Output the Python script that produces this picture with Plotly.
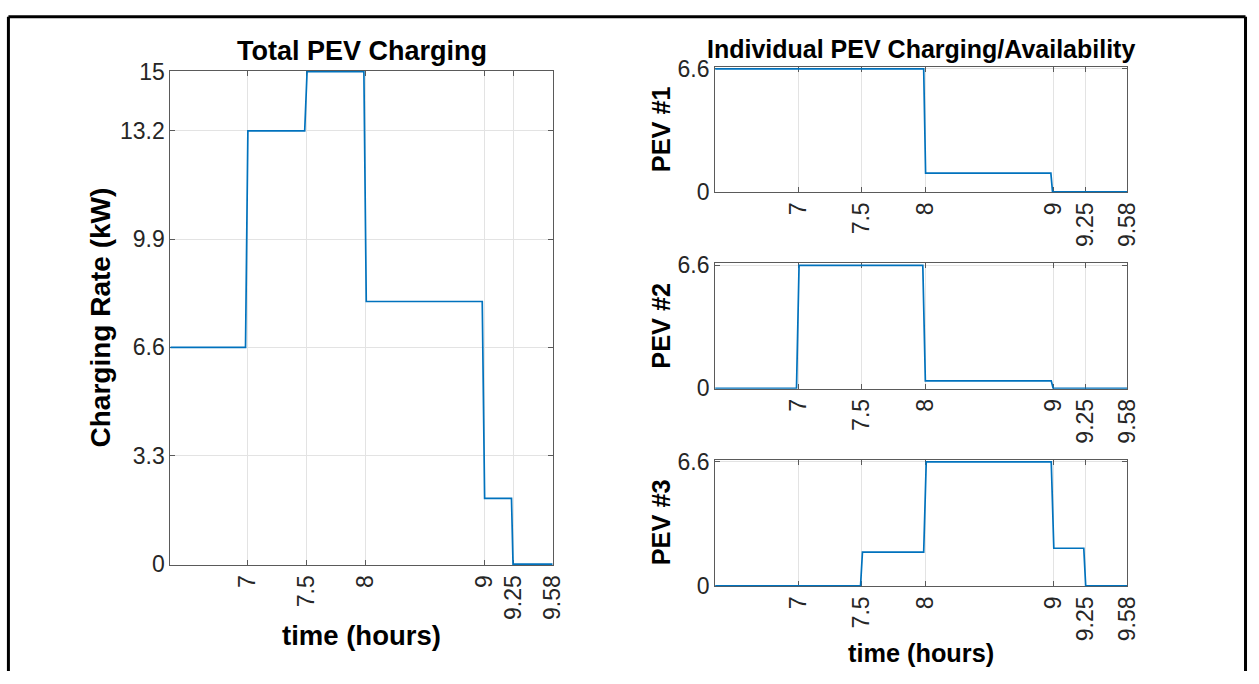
import plotly.graph_objects as go

# ---------------- data ----------------
x_ticks = [7, 7.5, 8, 9, 9.25, 9.58]
x_tick_labels = ["7", "7.5", "8", "9", "9.25", "9.58"]
x_range = [6.35, 9.58]

total_y_ticks = [0, 3.3, 6.6, 9.9, 13.2, 15]
pev_y_ticks = [0, 6.6]

# Total PEV charging (kW) - vertices of the stepped curve
total_t = [6.35, 6.985, 7.005, 7.485, 7.505, 7.985, 8.005, 8.985, 9.005, 9.232, 9.245, 9.58]
total_v = [6.6, 6.6, 13.2, 13.2, 15.0, 15.0, 8.0, 8.0, 2.0, 2.0, 0.0, 0.0]

pev1_t = [6.35, 7.985, 8.0, 8.982, 8.995, 9.58]
pev1_v = [6.6, 6.6, 1.0, 1.0, 0.0, 0.0]

pev2_t = [6.35, 6.988, 7.008, 7.978, 7.998, 8.985, 9.0, 9.58]
pev2_v = [0.0, 0.0, 6.6, 6.6, 0.4, 0.4, 0.0, 0.0]

pev3_t = [6.35, 7.49, 7.505, 7.985, 8.005, 8.985, 9.005, 9.24, 9.255, 9.58]
pev3_v = [0.0, 0.0, 1.8, 1.8, 6.6, 6.6, 2.0, 2.0, 0.0, 0.0]

# ---------------- styling ----------------
W, H = 1259, 684
FONT = "Liberation Sans, Arial, Helvetica, sans-serif"
LINE_COLOR = "#0072BD"
AX_COLOR = "#5a5a5a"
GRID = "#e3e3e3"
TXT = "#262626"
TICK_FS = 23


def px_x(p):
    return p / W


def px_y(p):
    return 1 - p / H


fig = go.Figure()

series = [
    (total_t, total_v, "x", "y"),
    (pev1_t, pev1_v, "x2", "y2"),
    (pev2_t, pev2_v, "x3", "y3"),
    (pev3_t, pev3_v, "x4", "y4"),
]
for t, v, xa, ya in series:
    fig.add_trace(go.Scatter(x=t, y=v, mode="lines", xaxis=xa, yaxis=ya,
                             line=dict(color=LINE_COLOR, width=1.7),
                             showlegend=False, hoverinfo="skip"))

common_axis = dict(
    showline=True, linecolor=AX_COLOR, linewidth=1, mirror="allticks",
    ticks="inside", ticklen=5, tickcolor=AX_COLOR, tickwidth=1,
    showgrid=True, gridcolor=GRID, gridwidth=1, zeroline=False,
    tickfont=dict(family=FONT, size=TICK_FS, color=TXT),
    layer="below traces",
)

left_dom_x = [px_x(172), px_x(558)]
right_dom_x = [px_x(722), px_x(1138)]

xaxis_common = dict(common_axis, range=x_range, tickmode="array", tickvals=x_ticks,
                    ticktext=x_tick_labels, tickangle=-90)

layout = dict(
    width=W, height=H, margin=dict(l=0, r=0, t=0, b=0),
    paper_bgcolor="white", plot_bgcolor="white",
    font=dict(family=FONT, color=TXT),
    xaxis=dict(xaxis_common, domain=left_dom_x, anchor="y"),
    yaxis=dict(common_axis, domain=[px_y(574), px_y(61)], range=[-0.03, 15.03],
               tickmode="array", tickvals=total_y_ticks,
               ticktext=[f"{v:g}" for v in total_y_ticks], anchor="x"),
    xaxis2=dict(xaxis_common, domain=right_dom_x, anchor="y2"),
    yaxis2=dict(common_axis, domain=[px_y(187), px_y(57)], range=[-0.02, 6.7],
                tickmode="array", tickvals=pev_y_ticks, ticktext=["0", "6.6"], anchor="x2"),
    xaxis3=dict(xaxis_common, domain=right_dom_x, anchor="y3"),
    yaxis3=dict(common_axis, domain=[px_y(391), px_y(261)], range=[-0.02, 6.7],
                tickmode="array", tickvals=pev_y_ticks, ticktext=["0", "6.6"], anchor="x3"),
    xaxis4=dict(xaxis_common, domain=right_dom_x, anchor="y4"),
    yaxis4=dict(common_axis, domain=[px_y(596), px_y(465)], range=[-0.02, 6.7],
                tickmode="array", tickvals=pev_y_ticks, ticktext=["0", "6.6"], anchor="x4"),
)
fig.update_layout(**layout)

ann = []


def add_text(text, x, y, size, angle=0):
    ann.append(dict(text=f"<b>{text}</b>", x=px_x(x), y=px_y(y), xref="paper", yref="paper",
                    xanchor="center", yanchor="middle", showarrow=False, textangle=angle,
                    font=dict(family=FONT, size=size, color="#000000")))


add_text("Total PEV Charging", 365, 40, 27)
add_text("Individual PEV Charging/Availability", 930, 38, 25)
add_text("Charging Rate (kW)", 101, 317, 28, -90)
add_text("time (hours)", 365, 647, 27.5)
add_text("time (hours)", 930, 665, 25.3)
add_text("PEV #1", 667, 122, 25.3, -90)
add_text("PEV #2", 667, 326, 25.3, -90)
add_text("PEV #3", 667, 530, 25.3, -90)
fig.update_layout(annotations=ann)

# outer black frame (open at bottom)
frame = dict(type="line", xref="paper", yref="paper", line=dict(color="black", width=3))
fig.update_layout(shapes=[
    dict(frame, x0=px_x(8.5), x1=px_x(8.5), y0=px_y(5), y1=0),
    dict(frame, x0=px_x(8.5), x1=px_x(1257.5), y0=px_y(5), y1=px_y(5)),
    dict(frame, x0=px_x(1257.5), x1=px_x(1257.5), y0=px_y(5), y1=0),
])

fig.write_html("out.html")
